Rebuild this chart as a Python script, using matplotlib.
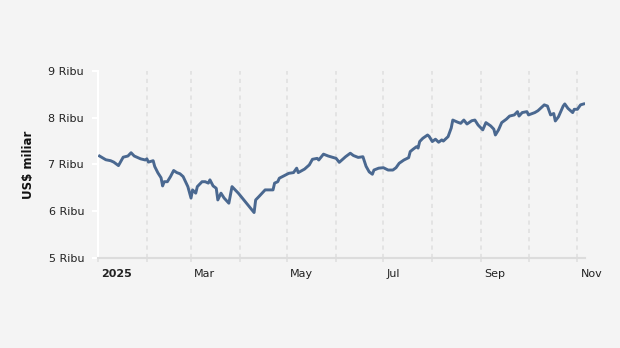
import numpy as np
import matplotlib
matplotlib.use('Agg')
import matplotlib.pyplot as plt
import matplotlib.transforms as mtransforms

# hari sejak 1 Jan 2025 dan nilai (US$ miliar)
days = [1, 5, 8, 10, 13, 16, 19, 21, 23, 27,
        30, 31, 32, 35, 36, 38, 40, 41, 42, 44,
        46, 48, 50, 52, 54, 56, 57, 59, 60, 62,
        63, 66, 68, 70, 71, 73, 75, 76, 78, 80,
        83, 85, 89, 99, 100, 102, 105, 106, 111, 112,
        114, 115, 121, 124, 126, 127, 131, 134, 136, 139,
        140, 143, 146, 151, 153, 157, 160, 162, 165, 168,
        170, 172, 174, 175, 178, 181, 184, 187, 189, 191,
        194, 197, 198, 200, 202, 203, 204, 206, 209, 210,
        212, 214, 216, 218, 219, 222, 224, 225, 228, 230,
        232, 234, 237, 239, 241, 244, 246, 249, 251, 252,
        254, 256, 259, 261, 264, 266, 267, 269, 272, 273,
        277, 279, 283, 285, 287, 289, 290, 292, 295, 296,
        298, 301, 302, 304, 306, 308]
values = [7180, 7100, 7080, 7050, 6975, 7155, 7180, 7250, 7180, 7120,
          7095, 7120, 7050, 7080, 6955, 6820, 6715, 6540, 6630, 6630,
          6740, 6870, 6825, 6800, 6740, 6600, 6525, 6280, 6455, 6385,
          6525, 6630, 6630, 6600, 6670, 6540, 6490, 6240, 6385, 6280,
          6170, 6525, 6385, 5970, 6240, 6310, 6420, 6455, 6455, 6600,
          6630, 6705, 6810, 6825, 6920, 6825, 6900, 6990, 7110, 7130,
          7095, 7220, 7180, 7130, 7045, 7165, 7240, 7190, 7150, 7165,
          6960, 6840, 6790, 6880, 6920, 6930, 6880, 6880, 6930, 7025,
          7095, 7145, 7275, 7330, 7380, 7350, 7490, 7560, 7630, 7600,
          7490, 7540, 7475, 7525, 7500, 7595, 7780, 7950, 7905, 7880,
          7950, 7865, 7935, 7950, 7845, 7740, 7895, 7825, 7755, 7630,
          7740, 7895, 7970, 8035, 8060, 8130, 8035, 8110, 8130, 8060,
          8110, 8150, 8275, 8250, 8060, 8090, 7930, 8020, 8250, 8295,
          8200, 8110, 8180, 8180, 8275, 8295]

month_starts = ['2025-01-01', '2025-02-01', '2025-03-01', '2025-04-01', '2025-05-01',
                '2025-06-01', '2025-07-01', '2025-08-01', '2025-09-01', '2025-10-01',
                '2025-11-01']
month_labels = ['2025', '', 'Mar', '', 'May', '', 'Jul', '', 'Sep', '', 'Nov']
y_ticks = [5000, 6000, 7000, 8000, 9000]
y_labels = ['5 Ribu', '6 Ribu', '7 Ribu', '8 Ribu', '9 Ribu']

bg = '#f4f4f4'
dates = np.datetime64('2025-01-01') + np.array(days).astype('timedelta64[D]')
ticks = np.array(month_starts, dtype='datetime64[D]')

fig = plt.figure(figsize=(6.2, 3.48), dpi=100, facecolor=bg)
ax = fig.add_axes([0.158, 0.259, 0.786, 0.537], facecolor=bg)

ax.plot(dates, values, color='#4a6890', lw=2.1, solid_joinstyle='round', zorder=3)

ax.set_xlim(np.datetime64('2025-01-01'), np.datetime64('2025-11-06'))
ax.set_ylim(5000, 9000)

ax.set_xticks(ticks)
ax.set_xticklabels(month_labels)
ax.set_yticks(y_ticks)
ax.set_yticklabels(y_labels)

# garis grid vertikal putus-putus
ax.grid(axis='x', color='#e0e0e0', lw=1.2, ls=(0, (2.5, 2.5)))
for s in ['top', 'right']:
    ax.spines[s].set_visible(False)
ax.spines['left'].set_color('white')
ax.spines['left'].set_linewidth(1.5)
ax.spines['bottom'].set_color('#dcdcdc')
ax.spines['bottom'].set_linewidth(1.5)

ax.tick_params(axis='y', colors='white', length=4, width=1.5, pad=6, labelcolor='#222222', labelsize=8)
ax.tick_params(axis='x', colors='#e0e0e0', length=3, width=1.2, pad=5, labelcolor='#222222', labelsize=8)

offset = mtransforms.ScaledTranslation(3 / 100, 0, fig.dpi_scale_trans)
for lab in ax.get_xticklabels():
    lab.set_ha('left')
    lab.set_transform(lab.get_transform() + offset)
ax.get_xticklabels()[0].set_fontweight('bold')

ax.set_ylabel('US$ miliar', fontsize=8.5, fontweight='bold', color='#111111', labelpad=10)

fig.savefig('out.png', dpi=100, facecolor=bg)
